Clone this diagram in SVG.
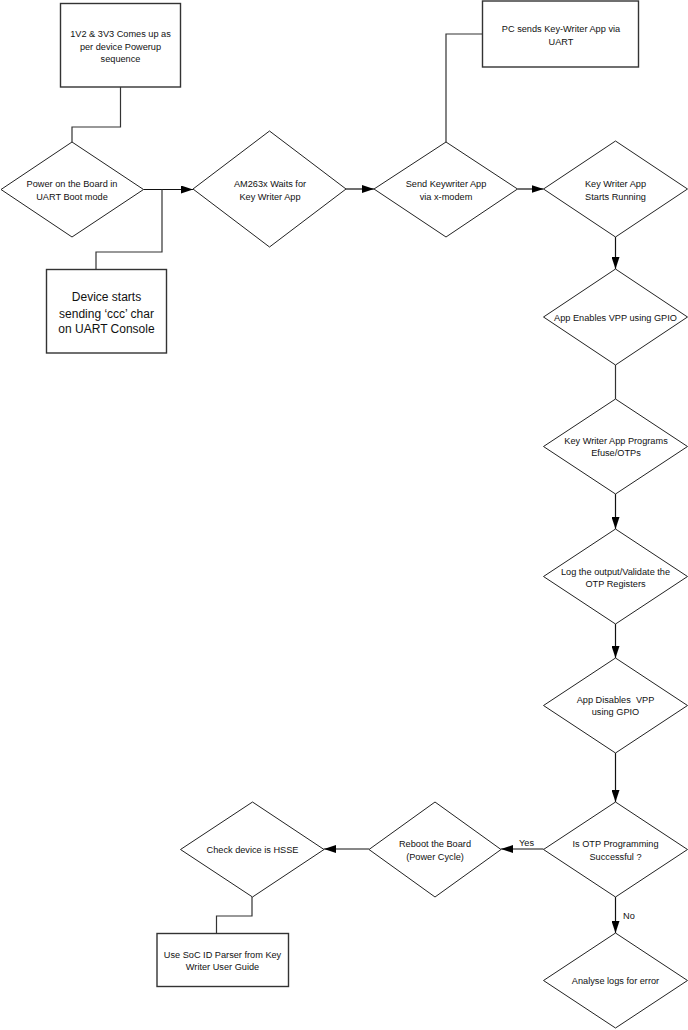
<svg xmlns="http://www.w3.org/2000/svg" width="688" height="1030" viewBox="0 0 688 1030">
<style>
.box{fill:#fff;stroke:#333;stroke-width:1.4}
.dia{fill:#fff;stroke:#222;stroke-width:1}
.ln{fill:none;stroke:#333;stroke-width:1.2}
.ar{fill:none;stroke:#111;stroke-width:1.2;marker-end:url(#ah)}
text{font-family:"Liberation Sans",Arial,sans-serif;font-size:9.2px;fill:#111;text-anchor:middle;white-space:pre}
.big{font-size:12px}
.lbl{text-anchor:start}
</style>
<defs>
<marker id="ah" markerUnits="userSpaceOnUse" markerWidth="12" markerHeight="8" refX="12" refY="4" orient="auto">
<path d="M0,0 L12,4 L0,8 z" fill="#000"/>
</marker>
</defs>
<rect width="688" height="1030" fill="#fff"/>
<g id="connectors">
<polyline class="ln" points="120.5,87 120.5,127 72,127 72,142"/>
<line class="ar" x1="143.5" y1="189.5" x2="193" y2="189.5"/>
<polyline class="ln" points="162,189.5 162,252 96,252 96,269"/>
<line class="ar" x1="346" y1="189" x2="374" y2="189"/>
<polyline class="ln" points="482,34 446,34 446,142"/>
<line class="ar" x1="517.5" y1="189" x2="543.5" y2="189"/>
<line class="ar" x1="615.5" y1="237" x2="615.5" y2="269"/>
<line class="ln" x1="615.5" y1="365" x2="615.5" y2="399"/>
<line class="ar" x1="615.5" y1="494" x2="615.5" y2="529"/>
<line class="ar" x1="615.5" y1="624" x2="615.5" y2="658"/>
<line class="ar" x1="615.5" y1="753" x2="615.5" y2="802"/>
<line class="ar" x1="543.5" y1="849" x2="501" y2="849"/>
<line class="ar" x1="369" y1="849" x2="324" y2="849"/>
<polyline class="ln" points="252,897 252,916 216.5,916 216.5,933"/>
<line class="ar" x1="615.5" y1="897" x2="615.5" y2="933"/>
<text class="lbl" x="519" y="845.5">Yes</text>
<text class="lbl" x="623" y="918.5">No</text>
</g>
<g id="n1">
<rect class="box" x="60.5" y="3.5" width="120" height="83.5"/>
<text x="120.5" y="37">1V2 &amp; 3V3 Comes up as</text>
<text x="120.5" y="49.5">per device Powerup</text>
<text x="120.5" y="62">sequence</text>
</g>
<g id="n2">
<polygon class="dia" points="72,142 143.5,189.5 72,237 1,189.5"/>
<text x="72" y="186.5">Power on the Board in</text>
<text x="72" y="199.5">UART Boot mode</text>
</g>
<g id="n3">
<rect class="box" x="46.5" y="269.5" width="120" height="83.5"/>
<text class="big" x="106.5" y="300.5">Device starts</text>
<text class="big" x="106.5" y="317.5">sending ‘ccc’ char</text>
<text class="big" x="106.5" y="333">on UART Console</text>
</g>
<g id="n4">
<polygon class="dia" points="269.5,131 346,189 269.5,247 193,189"/>
<text x="270" y="187">AM263x Waits for</text>
<text x="270" y="199.5">Key Writer App</text>
</g>
<g id="n5">
<rect class="box" x="482.5" y="1" width="156" height="66"/>
<text x="561" y="31.5">PC sends Key-Writer App via</text>
<text x="561" y="44.5">UART</text>
</g>
<g id="n6">
<polygon class="dia" points="446,142 517.5,189 446,237 374,189"/>
<text x="446" y="187">Send Keywriter App</text>
<text x="446" y="199.5">via x-modem</text>
</g>
<g id="n7">
<polygon class="dia" points="615.5,141 687.5,189 615.5,237 543.5,189"/>
<text x="615.5" y="187">Key Writer App</text>
<text x="615.5" y="199.5">Starts Running</text>
</g>
<g id="n8">
<polygon class="dia" points="615.5,269 687.5,317 615.5,365 543.5,317"/>
<text x="615.5" y="320.5">App Enables VPP using GPIO</text>
</g>
<g id="n9">
<polygon class="dia" points="615.5,399 687.5,446.5 615.5,494 543.5,446.5"/>
<text x="616" y="443.5">Key Writer App Programs</text>
<text x="616" y="456">Efuse/OTPs</text>
</g>
<g id="n10">
<polygon class="dia" points="615.5,529 687.5,576.5 615.5,624 543.5,576.5"/>
<text x="615.5" y="574.5">Log the output/Validate the</text>
<text x="615.5" y="587">OTP Registers</text>
</g>
<g id="n11">
<polygon class="dia" points="615.5,658 687.5,705.5 615.5,753 543.5,705.5"/>
<text x="615.5" y="702.5">App Disables  VPP</text>
<text x="615.5" y="715">using GPIO</text>
</g>
<g id="n12">
<polygon class="dia" points="615.5,802 687.5,849.5 615.5,897 543.5,849.5"/>
<text x="615.5" y="846.5">Is OTP Programming</text>
<text x="615.5" y="859.5">Successful ?</text>
</g>
<g id="n13">
<polygon class="dia" points="435,802 501,849.5 435,897 369,849.5"/>
<text x="435" y="846.5">Reboot the Board</text>
<text x="435" y="859.5">(Power Cycle)</text>
</g>
<g id="n14">
<polygon class="dia" points="252.5,802 324,849.5 252.5,897 180.5,849.5"/>
<text x="252.5" y="852.5">Check device is HSSE</text>
</g>
<g id="n15">
<rect class="box" x="157" y="933.5" width="131.5" height="53"/>
<text x="222.5" y="957.5">Use SoC ID Parser from Key</text>
<text x="222.5" y="970">Writer User Guide</text>
</g>
<g id="n16">
<polygon class="dia" points="615.5,933 687.5,980.5 615.5,1028 543.5,980.5"/>
<text x="615.5" y="984">Analyse logs for error</text>
</g>
</svg>
